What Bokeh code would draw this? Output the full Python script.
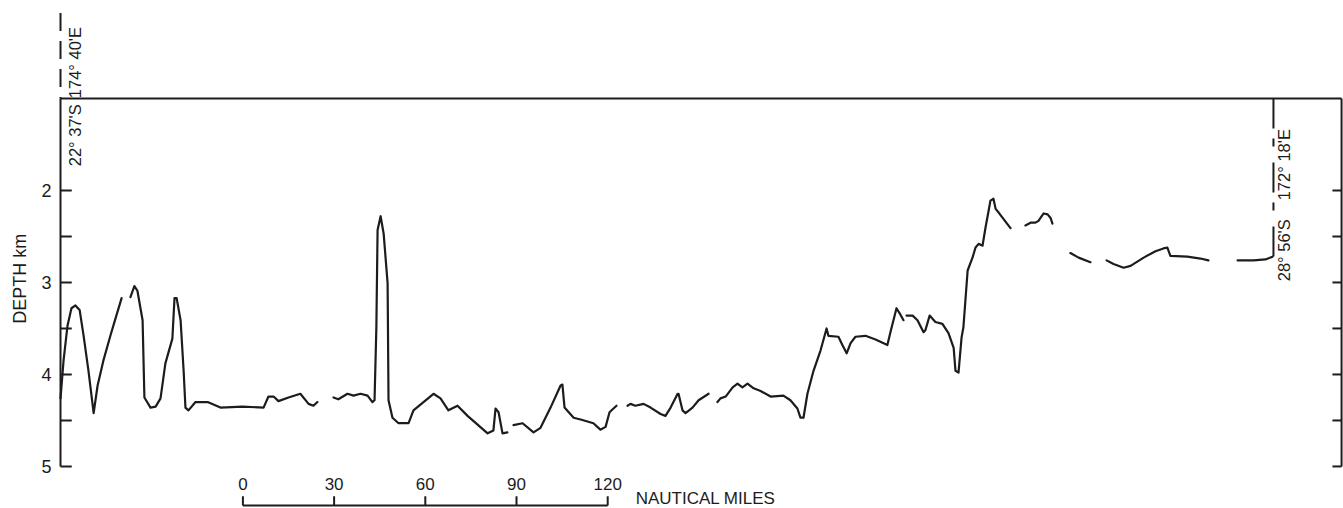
from bokeh.plotting import figure
from bokeh.models import Range1d
from bokeh.core.properties import value
from bokeh.embed import file_html
from bokeh.resources import INLINE

# Bathymetric profile: distance along track (nautical miles) vs depth (km).
# The record is broken into separate traced pieces.
seg_a_nm = [0.0, 1.0, 2.3, 3.6, 4.9, 6.3, 7.6, 9.2, 10.9, 12.2, 14.1, 16.4, 18.1, 20.1]
seg_a_km = [4.26, 3.85, 3.47, 3.28, 3.25, 3.30, 3.58, 3.96, 4.42, 4.12, 3.85, 3.58, 3.39, 3.17]

seg_b_nm = [23.0, 24.3, 25.3, 27.0, 27.6, 29.6, 31.3, 32.9, 34.5, 36.8, 37.5, 38.2, 39.5, 40.5,
            41.1, 42.1, 44.4, 48.4, 52.6, 59.9, 66.8, 68.4, 70.1, 71.7, 75.0, 78.9, 81.6, 83.2, 84.5]
seg_b_km = [3.16, 3.04, 3.09, 3.41, 4.25, 4.36, 4.35, 4.26, 3.88, 3.61, 3.17, 3.17, 3.41, 3.96,
            4.36, 4.39, 4.30, 4.30, 4.36, 4.35, 4.36, 4.24, 4.24, 4.29, 4.25, 4.21, 4.32, 4.34, 4.30]

seg_c_nm = [89.8, 91.4, 94.4, 96.4, 98.7, 101.0, 102.6, 103.3, 103.9, 104.3, 105.3, 106.3, 107.6,
            107.9, 109.2, 111.2, 114.5, 116.1, 119.4, 122.7, 125.0, 127.6, 130.6, 133.9, 140.5,
            142.4, 143.1, 144.1, 145.4, 147.0]
seg_c_km = [4.25, 4.27, 4.21, 4.23, 4.21, 4.23, 4.30, 4.28, 3.49, 2.43, 2.28, 2.47, 3.01,
            4.28, 4.47, 4.53, 4.53, 4.39, 4.30, 4.21, 4.26, 4.39, 4.34, 4.45, 4.64,
            4.61, 4.37, 4.41, 4.64, 4.63]

seg_d_nm = [149.0, 152.0, 155.6, 157.9, 161.2, 164.5, 165.1, 165.8, 168.8, 171.1, 175.3, 177.6,
            179.3, 180.6, 181.9, 182.9]
seg_d_km = [4.55, 4.53, 4.63, 4.58, 4.36, 4.12, 4.11, 4.36, 4.47, 4.49, 4.53, 4.60,
            4.57, 4.41, 4.37, 4.34]

seg_e_nm = [186.5, 187.5, 189.1, 191.8, 194.1, 197.4, 199.0, 200.7, 203.0, 203.3, 204.6, 205.6,
            207.9, 209.9, 213.2]
seg_e_km = [4.34, 4.32, 4.34, 4.32, 4.36, 4.43, 4.45, 4.36, 4.21, 4.21, 4.39, 4.42,
            4.36, 4.28, 4.21]

seg_f_nm = [216.1, 217.1, 218.8, 221.1, 222.7, 224.3, 226.0, 228.0, 230.3, 233.6, 237.8, 240.1,
            242.4, 243.4, 244.4, 245.7, 247.7, 250.0, 252.0, 252.6, 255.9, 257.2, 258.6, 259.9,
            261.5, 264.8, 268.1, 272.0, 273.0, 275.0, 276.3, 277.3]
seg_f_km = [4.30, 4.26, 4.24, 4.14, 4.10, 4.14, 4.10, 4.15, 4.18, 4.24, 4.23, 4.28,
            4.37, 4.47, 4.47, 4.21, 3.96, 3.74, 3.50, 3.58, 3.59, 3.68, 3.77, 3.66,
            3.59, 3.58, 3.62, 3.68, 3.54, 3.28, 3.35, 3.41]

seg_g_nm = [278.3, 280.3, 281.9, 283.9, 284.5, 285.9, 287.8, 290.1, 292.1, 293.8, 294.4, 295.4,
            296.4, 297.0, 298.4, 300.0, 301.0, 302.0, 303.3, 304.3, 305.3, 305.9, 306.9, 307.6,
            308.6, 312.5]
seg_g_km = [3.36, 3.36, 3.41, 3.54, 3.52, 3.36, 3.43, 3.45, 3.55, 3.71, 3.96, 3.98,
            3.60, 3.49, 2.87, 2.73, 2.62, 2.58, 2.60, 2.40, 2.22, 2.11, 2.09, 2.20,
            2.24, 2.41]

seg_h_nm = [317.4, 319.1, 320.7, 321.7, 323.4, 324.7, 325.7, 326.3]
seg_h_km = [2.38, 2.35, 2.35, 2.33, 2.25, 2.26, 2.30, 2.36]

seg_i_nm = [332.2, 334.9, 338.8]
seg_i_km = [2.68, 2.73, 2.78]

seg_j_nm = [344.1, 346.4, 349.7, 352.0, 356.3, 360.2, 362.8, 364.1, 365.1, 370.7, 375.0, 377.6]
seg_j_km = [2.76, 2.80, 2.84, 2.82, 2.73, 2.66, 2.63, 2.62, 2.71, 2.72, 2.74, 2.76]

seg_k_nm = [387.2, 392.4, 396.4, 398.7]
seg_k_km = [2.76, 2.76, 2.75, 2.72]

# Frame of the section
surface_km = 1.0
bottom_km = 5.0
end_nm = 421.4
depth_ticks = [2.0, 2.5, 3.0, 3.5, 4.0, 4.5, 5.0]
depth_labels = ["2", "3", "4", "5"]
depth_label_values = [2.0, 3.0, 4.0, 5.0]

# Station positions at both ends of the track
start_nm = 0.0
finish_nm = 399.0
start_lon = "174° 40'E"
start_lat = "22° 37'S"
finish_lon = "172° 18'E"
finish_lat = "28° 56'S"

# Distance scale bar
scale_origin_nm = 60.0
scale_steps = [0, 30, 60, 90, 120]

INK = "#1c1c1c"
FONT = value("Liberation Sans")

p = figure(width=1343, height=508, output_backend="svg", toolbar_location=None,
           x_range=Range1d(-19.74, 422.04), y_range=Range1d(5.457, -0.065),
           x_axis_type=None, y_axis_type=None, min_border=0)
p.outline_line_color = None
p.background_fill_color = "white"
p.border_fill_color = "white"

# Profile pieces
xs = [seg_a_nm, seg_b_nm, seg_c_nm, seg_d_nm, seg_e_nm, seg_f_nm, seg_g_nm, seg_h_nm,
      seg_i_nm, seg_j_nm, seg_k_nm]
ys = [seg_a_km, seg_b_km, seg_c_km, seg_d_km, seg_e_km, seg_f_km, seg_g_km, seg_h_km,
      seg_i_km, seg_j_km, seg_k_km]
p.multi_line(xs, ys, line_color=INK, line_width=2.2, line_join="round", line_cap="round")

# Surface line and the two vertical depth scales
p.line([start_nm, end_nm], [surface_km, surface_km], line_color=INK, line_width=2)
p.line([start_nm, start_nm], [surface_km, bottom_km], line_color=INK, line_width=2)
p.line([end_nm, end_nm], [surface_km, bottom_km], line_color=INK, line_width=2)

# Dashed meridian marks at the ends of the track
p.line([start_nm, start_nm], [0.07, surface_km], line_color=INK, line_width=2,
       line_dash="18 10")
p.line([finish_nm, finish_nm], [surface_km, seg_k_km[-1]], line_color=INK, line_width=2,
       line_dash="30 10 8 16")

# Depth ticks (pointing inward on both sides)
p.segment(x0=[start_nm] * len(depth_ticks), y0=depth_ticks,
          x1=[start_nm + 3.7] * len(depth_ticks), y1=depth_ticks,
          line_color=INK, line_width=2)
p.segment(x0=[end_nm - 3.0] * len(depth_ticks), y0=depth_ticks,
          x1=[end_nm] * len(depth_ticks), y1=depth_ticks,
          line_color=INK, line_width=2)

p.text(x=[start_nm - 4.6] * len(depth_labels), y=depth_label_values, text=depth_labels,
       text_font=FONT, text_font_size="18px", text_color=INK,
       text_align="center", text_baseline="middle")
p.text(x=[-13.2], y=[2.96], text=["DEPTH km"], angle=1.5708,
       text_font=FONT, text_font_size="18px", text_color=INK,
       text_align="center", text_baseline="middle")

# Position annotations
p.text(x=[start_nm + 4.8, start_nm + 4.8], y=[0.61, 1.40], text=[start_lon, start_lat],
       angle=1.5708, text_font=FONT, text_font_size="16.5px", text_color=INK,
       text_align="center", text_baseline="middle")
p.text(x=[finish_nm + 3.5, finish_nm + 3.5], y=[1.72, 2.65], text=[finish_lon, finish_lat],
       angle=1.5708, text_font=FONT, text_font_size="16.5px", text_color=INK,
       text_align="center", text_baseline="middle")

# Scale bar
scale_x = [scale_origin_nm + s for s in scale_steps]
bar_y = 5.424
p.line([scale_x[0], scale_x[-1]], [bar_y, bar_y], line_color=INK, line_width=2)
p.segment(x0=scale_x, y0=[bar_y] * len(scale_x), x1=scale_x, y1=[bar_y - 0.10] * len(scale_x),
          line_color=INK, line_width=2)
p.text(x=scale_x, y=[5.196] * len(scale_x), text=[str(s) for s in scale_steps],
       text_font=FONT, text_font_size="17px", text_color=INK,
       text_align="center", text_baseline="middle")
p.text(x=[scale_x[-1] + 9.2], y=[5.35], text=["NAUTICAL MILES"],
       text_font=FONT, text_font_size="17px", text_color=INK,
       text_align="left", text_baseline="middle")

open("out.html", "w").write(file_html(p, INLINE))
